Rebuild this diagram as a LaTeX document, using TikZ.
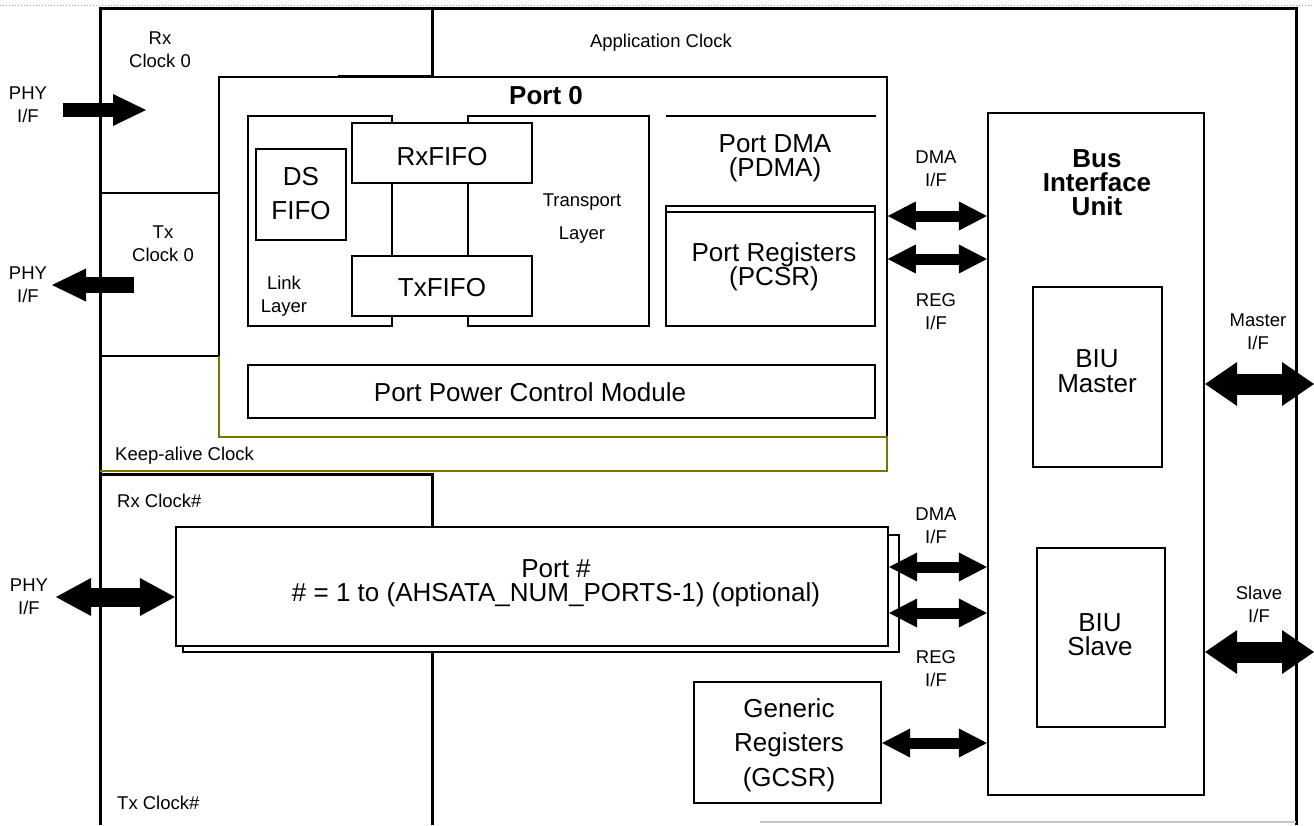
\documentclass[tikz,border=0pt]{standalone}
\usepackage{fontspec}
\setmainfont{Liberation Sans}
\usetikzlibrary{arrows.meta}
\definecolor{olivec}{RGB}{122,116,0}
\begin{document}
\begin{tikzpicture}[x=1pt,y=-1pt,
  bx/.style={draw=black, line width=2.2pt, fill=white, inner sep=0pt},
  thinbx/.style={draw=black, line width=1.5pt, fill=white, inner sep=0pt},
  sm/.style={font=\fontsize{18.5}{23}\selectfont, align=center, inner sep=0pt},
  md/.style={font=\fontsize{26}{24.5}\selectfont, align=center, inner sep=0pt},
  bd/.style={font=\bfseries\fontsize{26}{24}\selectfont, align=center, inner sep=0pt},
  frame/.style={draw=black, line width=3pt},
  sarr/.style n args={3}{draw=black, line width=#1, -{Triangle[width=#2,length=#3,line width=0pt]}},
  darr/.style n args={3}{draw=black, line width=#1, {Triangle[width=#2,length=#3,line width=0pt]}-{Triangle[width=#2,length=#3,line width=0pt]}}
]
\useasboundingbox (0,0) rectangle (1314,825);
\fill[white] (0,0) rectangle (1314,825);

% ---- frame and clock regions ----
\draw[gray!70, line width=1pt, dotted] (0,5) -- (1314,5);
\draw[frame] (100,8) -- (1296,8);
\draw[frame] (100,6.5) -- (100,825);
\draw[frame] (1296,6.5) -- (1296,825);
\draw[frame] (432,8) -- (432,77);
\draw[frame] (432,473) -- (432,825);
\draw[draw=black, line width=2.5pt] (338,76) -- (432,76);
\draw[draw=black, line width=2pt] (100,193) -- (219,193);
\draw[draw=black, line width=2pt] (100,356) -- (219,356);
\draw[frame] (100,474.5) -- (432,474.5);
\draw[gray!45, line width=1.5pt] (760,822) -- (1296,822);

% ---- Port 0 ----
\node[thinbx, minimum width=668pt, minimum height=360pt] (port0) at (553,257) {};
\draw[olivec, line width=2pt] (219,356) -- (219,437) -- (887,437) -- (887,471) -- (100,471);

\node[bx, minimum width=144pt, minimum height=210pt] (link) at (320,221) {};
\node[bx, minimum width=181pt, minimum height=210pt] (transp) at (558.5,221) {};
\node[bx, minimum width=90pt, minimum height=91pt] (dsfifo) at (301,194.5) {};
\node[bx, minimum width=180pt, minimum height=60pt] (rxfifo) at (442,153) {};
\node[bx, minimum width=180pt, minimum height=60pt] (txfifo) at (442,286) {};
\coordinate (pdmaL) at (666,116);
\coordinate (pdmaR) at (876,116);
\draw[draw=black, line width=2.5pt] (pdmaL) -- (pdmaR);
\node[bx, minimum width=209pt, minimum height=120pt] (pcsr) at (770.5,266) {};
\draw[draw=black, line width=2pt] (pcsr.north west) ++(0,7) -- ++(209,0);
\node[thinbx, minimum width=627pt, minimum height=53pt] (ppcm) at (561.5,391.5) {};

% ---- Port # ----
\node[thinbx, minimum width=716pt, minimum height=117pt] (portnback) at (541,593.5) {};
\node[bx, minimum width=712pt, minimum height=119pt] (portn) at (532,586.5) {};

% ---- BIU and GCSR ----
\node[bx, minimum width=216pt, minimum height=682pt] (biu) at (1096,454) {};
\node[bx, minimum width=129pt, minimum height=180pt] (biumaster) at (1097.5,377) {};
\node[bx, minimum width=128pt, minimum height=179pt] (biuslave) at (1101,637.5) {};
\node[bx, minimum width=187pt, minimum height=121pt] (gcsr) at (787.5,742.5) {};

% ---- arrows ----
\coordinate (phyrx) at (63,110);
\coordinate (rxend) at (146,110);
\draw[sarr={14pt}{32pt}{33pt}] (phyrx) -- (rxend);
\coordinate (txstart) at (134,285);
\coordinate (phytx) at (52,285);
\draw[sarr={16pt}{33pt}{34pt}] (txstart) -- (phytx);
\coordinate (phyn) at (56,597);
\draw[darr={19pt}{38pt}{35pt}] (phyn) -- (portn.west |- phyn);

\draw[darr={11pt}{29pt}{28pt}] (port0.east |- 0,216) -- (biu.west |- 0,216);
\draw[darr={11pt}{29pt}{28pt}] (port0.east |- 0,259) -- (biu.west |- 0,259);
\draw[darr={11pt}{29pt}{28pt}] (portn.east |- 0,567) -- (biu.west |- 0,567);
\draw[darr={11pt}{29pt}{28pt}] (portn.east |- 0,613) -- (biu.west |- 0,613);
\draw[darr={11pt}{29pt}{28pt}] (gcsr.east |- 0,743) -- (biu.west |- 0,743);
\coordinate (masterout) at (1314,384);
\draw[darr={21pt}{44pt}{32pt}] (biu.east |- masterout) -- (masterout);
\coordinate (slaveout) at (1314,652);
\draw[darr={21pt}{44pt}{32pt}] (biu.east |- slaveout) -- (slaveout);

% ---- texts ----
\node[sm] (trx0) at (160,50) {Rx\\Clock 0};
\node[sm] (ttx0) at (163,244) {Tx\\Clock 0};
\node[sm] (tphy1) at (28,105) {PHY\\I/F};
\node[sm] (tphy2) at (28,285) {PHY\\I/F};
\node[sm] (tphy3) at (29,597) {PHY\\I/F};
\node[sm, anchor=base] (tapp) at (661,47) {Application Clock};
\node[sm, anchor=base west] (tkeep) at (115,460) {Keep-alive Clock};
\node[sm, anchor=base west] (trxn) at (117,507) {Rx Clock\#};
\node[sm, anchor=base west] (ttxn) at (117,809) {Tx Clock\#};

\node[bd, anchor=base] (tport0) at (546,104) {Port 0};
\node[md] (tds) at (301,194) {DS\\[9.5pt]FIFO};
\node[md] (trxf) at (442,157) {RxFIFO};
\node[md] (ttxf) at (442,288) {TxFIFO};
\node[sm] (tlink) at (284,296) {Link\\Layer};
\node[sm] (ttransp) at (582,219) {Transport\\[10pt]Layer};
\node[md] (tpdma) at (775,158) {Port DMA\\(PDMA)};
\node[md] (tpcsr) at (774,267) {Port Registers\\(PCSR)};
\node[md] (tppcm) at (530,392) {Port Power Control Module};

\node[md] (tportn) at (556,583) {Port \#\\\# = 1 to (AHSATA\_NUM\_PORTS-1) (optional)};
\node[md] (tgcsr) at (789,745) {Generic\\[10pt]Registers\\[10pt](GCSR)};

\node[bd] (tbiu) at (1097,183) {Bus\\Interface\\Unit};
\node[md] (tmaster) at (1097,371) {BIU\\Master};
\node[md] (tslave) at (1100,634.5) {BIU\\Slave};

\node[sm] (tdma0) at (936,168.5) {DMA\\I/F};
\node[sm] (treg0) at (936,311.5) {REG\\I/F};
\node[sm] (tdman) at (936,525.5) {DMA\\I/F};
\node[sm] (tregn) at (936,668.5) {REG\\I/F};
\node[sm] (tmif) at (1258,331.5) {Master\\I/F};
\node[sm] (tsif) at (1259,604.5) {Slave\\I/F};
\end{tikzpicture}
\end{document}
